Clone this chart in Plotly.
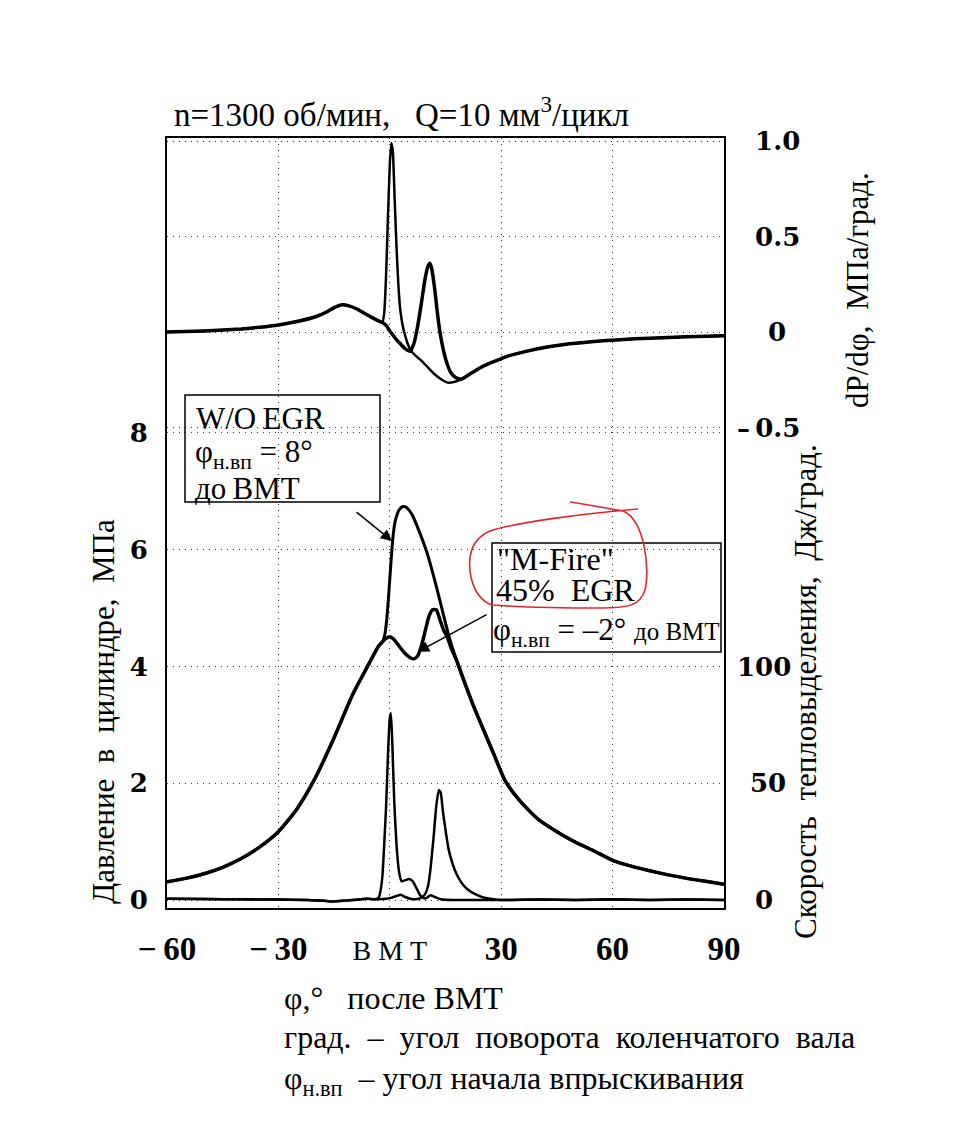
import plotly.graph_objects as go

# ---------------- data ----------------
# crank angle, degrees after TDC (ВМТ)
# Cylinder pressure, MPa
x_p_comp = [-60, -55, -50, -45, -40, -35, -30, -25, -20, -15, -10, -6, -3, -2]
p_comp = [0.31, 0.37, 0.45, 0.56, 0.71, 0.91, 1.17, 1.56, 2.1, 2.78, 3.52, 4.0, 4.35, 4.42]
x_p_wo = [-1.5, -1, -0.5, 0, 0.5, 1, 1.5, 2.5, 3.5, 4.5, 6, 8, 10, 12, 14, 16]
p_wo = [4.5, 4.7, 5.05, 5.5, 5.95, 6.3, 6.5, 6.68, 6.74, 6.72, 6.6, 6.3, 5.95, 5.5, 5.0, 4.5]
x_p_mf = [-1, 0, 1, 2.5, 4, 5.5, 6.5, 7.5, 8.5, 9.5, 10.5, 11.5, 12.5, 13.5, 14.5, 15.5, 16.5]
p_mf = [4.48, 4.51, 4.47, 4.35, 4.23, 4.15, 4.13, 4.18, 4.35, 4.6, 4.85, 4.97, 4.97, 4.8, 4.62, 4.5, 4.32]
x_p_exp = [18, 20, 22.5, 25, 28, 31, 35, 40, 45, 50, 55, 60, 65, 70, 75, 80, 85, 90]
p_exp = [4.1, 3.75, 3.33, 2.95, 2.5, 2.05, 1.7, 1.38, 1.17, 0.99, 0.84, 0.68, 0.58, 0.5, 0.43, 0.37, 0.32, 0.27]

# dP/dphi, MPa/deg
x_d_comp = [-60, -55, -50, -45, -40, -35, -30, -25, -20, -17, -15, -13, -11, -9, -7, -5, -3, -2]
d_comp = [0.0, 0.003, 0.006, 0.01, 0.016, 0.025, 0.037, 0.055, 0.08, 0.105, 0.128, 0.142, 0.137,
          0.122, 0.1, 0.078, 0.058, 0.05]
x_d_wo = [-1.5, -1, -0.5, 0, 0.4, 0.8, 1.3, 1.8, 2.3, 2.8, 3.5, 4.3, 5, 5.8, 7, 8.5, 10, 12, 14,
          15.7, 17.5, 19.5]
d_wo = [0.1, 0.3, 0.6, 0.88, 0.99, 0.95, 0.7, 0.45, 0.25, 0.12, 0.03, -0.03, -0.07, -0.1, -0.125,
        -0.15, -0.18, -0.22, -0.25, -0.265, -0.26, -0.245]
x_d_mf = [-1, 0, 1, 2, 3, 4, 5, 5.5, 6.5, 7.5, 8.5, 9.5, 10.3, 10.8, 11.3, 12, 12.7, 13.5, 14.5,
          15.5, 16.5, 17.5, 18.5, 19.5]
d_mf = [0.035, 0.005, -0.02, -0.045, -0.065, -0.085, -0.098, -0.1, -0.06, 0.03, 0.15, 0.28, 0.345,
        0.36, 0.33, 0.24, 0.12, 0.0, -0.1, -0.17, -0.215, -0.235, -0.245, -0.245]
x_d_tail = [22, 25, 28, 32, 37, 42, 47, 55, 62, 70, 80, 90]
d_tail = [-0.215, -0.18, -0.155, -0.125, -0.1, -0.08, -0.065, -0.05, -0.04, -0.032, -0.025, -0.02]

# Heat release rate, J/deg
x_h_base = [-60, -50, -40, -30, -22, -15, -10, -6, -4]
h_base = [0.5, 0.4, 0.3, 0.2, 0.0, -0.6, 0.0, 0.5, 0.3]
x_h_wo = [-3, -2.5, -2, -1.5, -1, -0.5, 0, 0.3, 0.7, 1.2, 1.8, 2.5, 3.2, 4.2, 5.2, 6.2, 7.2, 8.2,
          9.5, 11, 12.5, 14, 17, 20]
h_wo = [1, 4, 10, 24, 40, 62, 78, 80, 66, 42, 24, 12, 8, 8.5, 9, 8, 5, 2, 0.6, 2, 1, 0.2, 0, 0]
x_h_mf = [-3, -1, 0.5, 2, 3, 4, 5.5, 7, 8.5, 9.5, 10.3, 11, 11.8, 12.5, 13.2, 13.7, 14.3, 15, 15.8,
          16.8, 18, 19.5, 21, 23, 25, 28]
h_mf = [0.3, 0.5, 1, 1.8, 2.2, 1.4, 0.5, 0.3, 1, 2.5, 6, 14, 27, 40, 47, 46, 38, 30, 22, 16, 11, 7,
        4.5, 2.5, 1.2, 0.3]
x_h_tail = [30, 40, 50, 60, 70, 80, 90]
h_tail = [0.0, 0.2, 0.0, 0.3, 0.0, 0.2, 0.0]

# axis ticks
x_ticks = [-60, -30, 0, 30, 60, 90]
x_ticktext = ["<b>−\u200960</b>", "<b>−\u200930</b>", "<span style='font-size:28px'>В М Т</span>",
              "<b>30</b>", "<b>60</b>", "<b>90</b>"]
p_ticks = [0, 2, 4, 6, 8]
d_ticks = [-0.5, 0, 0.5, 1.0]
d_ticktext = ["–\u20090.5", "\u2007\u20020", "\u20070.5", "\u20071.0"]
h_ticks = [0, 50, 100]
h_ticktext = ["\u20070", "\u200250", "100"]

# ---------------- layout geometry ----------------
W, H = 960, 1131
L, R, T, B = 167, 724, 138, 908
P_RANGE = [-0.137, 13.05]
D_RANGE = [-3.016, 1.016]
H_RANGE = [25 * P_RANGE[0], 25 * P_RANGE[1]]


def pp(px, py):
    return (px - L) / (R - L), (B - py) / (B - T)


fig = go.Figure()
LINE = "black"
SM = 0.6

fig.add_trace(go.Scatter(x=x_p_comp + x_p_wo + x_p_exp, y=p_comp + p_wo + p_exp, mode="lines",
                         line=dict(color=LINE, width=3, shape="spline", smoothing=SM), yaxis="y"))
fig.add_trace(go.Scatter(x=x_p_comp + x_p_mf + x_p_exp, y=p_comp + p_mf + p_exp, mode="lines",
                         line=dict(color=LINE, width=3.5, shape="spline", smoothing=SM), yaxis="y"))
fig.add_trace(go.Scatter(x=x_d_comp + x_d_wo + x_d_tail, y=d_comp + d_wo + d_tail, mode="lines",
                         line=dict(color=LINE, width=2.5, shape="spline", smoothing=0.5), yaxis="y2"))
fig.add_trace(go.Scatter(x=x_d_comp + x_d_mf + x_d_tail, y=d_comp + d_mf + d_tail, mode="lines",
                         line=dict(color=LINE, width=3.5, shape="spline", smoothing=0.5), yaxis="y2"))
fig.add_trace(go.Scatter(x=x_h_base + x_h_wo + x_h_tail, y=h_base + h_wo + h_tail, mode="lines",
                         line=dict(color=LINE, width=2.5, shape="spline", smoothing=0.5), yaxis="y3"))
fig.add_trace(go.Scatter(x=x_h_base + x_h_mf + x_h_tail, y=h_base + h_mf + h_tail, mode="lines",
                         line=dict(color=LINE, width=2.5, shape="spline", smoothing=0.5), yaxis="y3"))

num_font = dict(family="DejaVu Serif", size=26, color="black", weight="bold")
grid = dict(showgrid=True, griddash="1px,5px", gridcolor="#333", gridwidth=1.3)

fig.update_layout(
    width=W, height=H,
    margin=dict(l=L, r=W - R, t=T, b=H - B, pad=0),
    paper_bgcolor="white", plot_bgcolor="white", showlegend=False,
    font=dict(family="Liberation Serif", color="black"),
    xaxis=dict(range=[-60, 90], tickvals=x_ticks, ticktext=x_ticktext, zeroline=False,
               showline=True, mirror=True, linecolor="black", linewidth=2, ticks="",
               tickfont=dict(family="Liberation Serif", size=33, color="black"),
               ticklabelstandoff=10, **grid),
    yaxis=dict(range=P_RANGE, tickvals=p_ticks, zeroline=False, showline=True, mirror=True,
               linecolor="black", linewidth=2, ticks="", tickfont=num_font,
               ticklabelstandoff=12, **grid),
    yaxis2=dict(range=D_RANGE, overlaying="y", side="right", anchor="x", tickvals=d_ticks,
                ticktext=d_ticktext, zeroline=False, showline=False, ticks="",
                tickfont=num_font, ticklabelstandoff=12, **grid),
    yaxis3=dict(range=H_RANGE, overlaying="y", side="right", anchor="x", tickvals=h_ticks,
                ticktext=h_ticktext, zeroline=False, showline=False, showgrid=False, ticks="",
                tickfont=num_font, ticklabelstandoff=12),
)

ann = []
serif = "Liberation Serif"


def text_ann(px, py, text, size, xanchor="left", yanchor="middle", angle=0):
    x, y = pp(px, py)
    ann.append(dict(xref="paper", yref="paper", x=x, y=y, text=text, showarrow=False,
                    xanchor=xanchor, yanchor=yanchor, textangle=angle,
                    font=dict(family=serif, size=size, color="black")))


text_ann(172, 112, "n=1300 об/мин,\u00a0\u00a0 Q=10 мм<sup>3</sup>/цикл", 33)
text_ann(103, 712, "Давление\u00a0 в\u00a0 цилиндре,\u00a0 МПа", 31, xanchor="center", angle=-90)
text_ann(805, 692, "Скорость\u00a0 тепловыделения,\u00a0 Дж/град.", 31, xanchor="center", angle=-90)
text_ann(857, 290, "dP/dφ,\u00a0 МПа/град.", 31, xanchor="center", angle=-90)
text_ann(282, 998, "φ,°\u00a0\u00a0 после ВМТ", 32)
text_ann(282, 1037, "град.\u00a0 –\u00a0 угол\u00a0 поворота\u00a0 коленчатого\u00a0 вала", 32)
text_ann(282, 1080, "φ<sub>н.вп</sub>\u00a0 – угол начала впрыскивания", 32)

# framed labels: boxes
for (x0, y0, x1, y1) in [(185, 395, 380, 502), (492, 543, 721, 652)]:
    a0, b0 = pp(x0, y0)
    a1, b1 = pp(x1, y1)
    fig.add_shape(type="rect", xref="paper", yref="paper", x0=a0, y0=b0, x1=a1, y1=b1,
                  line=dict(color="black", width=1.5), fillcolor="rgba(0,0,0,0)")

# box texts
text_ann(194, 418, "W/O\u2009EGR", 31)
text_ann(193, 454, "φ<sub>н.вп</sub>\u00a0= 8°", 31)
text_ann(193, 488, "до\u2009ВМТ", 31)
text_ann(495, 559, "\"M-Fire\"", 32)
text_ann(494, 590, "45%\u00a0 EGR", 32)
text_ann(491, 632, "φ<sub>н.вп</sub>\u00a0= –2° <span style='font-size:25px'>до ВМТ</span>", 31)

# arrows pointing to the curves
ann.append(dict(xref="x", yref="y", x=0.6, y=6.15, ax=-37, ay=-30, text="", showarrow=True,
                arrowhead=2, arrowsize=1.5, arrowwidth=1.5, arrowcolor="black", standoff=0))
ann.append(dict(xref="x", yref="y", x=7.6, y=4.25, ax=70, ay=-38, text="", showarrow=True,
                arrowhead=2, arrowsize=1.5, arrowwidth=1.5, arrowcolor="black", standoff=0))
fig.update_layout(annotations=ann)


# hand-drawn red highlight
def path_from(segs):
    out = []
    for cmd, pts in segs:
        coords = " ".join("%.5f,%.5f" % pp(a, b) for a, b in pts)
        out.append(cmd + " " + coords)
    return " ".join(out)


loop = path_from([
    ("M", [(493, 530)]),
    ("C", [(520, 522), (580, 514), (638, 509)]),
    ("M", [(623, 511)]),
    ("C", [(645, 520), (650, 570), (645, 590)]),
    ("C", [(640, 605), (630, 608), (600, 608)]),
    ("C", [(560, 608), (520, 607), (492, 605)]),
    ("C", [(470, 598), (464, 560), (475, 543)]),
    ("C", [(480, 536), (486, 532), (493, 530)]),
    ("M", [(570, 502)]),
    ("C", [(590, 505), (610, 509), (623, 511)]),
])
fig.add_shape(type="path", path=loop, xref="paper", yref="paper",
              line=dict(color="#e3242b", width=1.6))

fig.write_html("out.html", config={"displayModeBar": False},
               post_script="document.body.style.margin='0';")
